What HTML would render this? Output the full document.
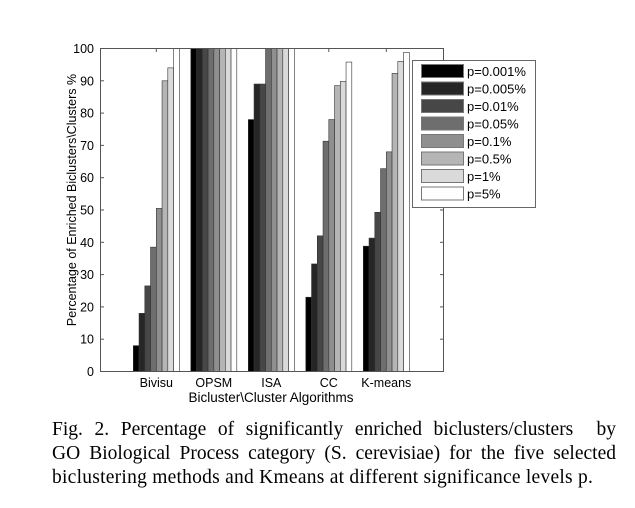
<!DOCTYPE html>
<html><head><meta charset="utf-8"><style>
body{margin:0;background:#fff;width:635px;height:508px;overflow:hidden;position:relative}
.cap{position:absolute;left:52px;width:564px;font-family:"Liberation Serif",serif;font-size:19.5px;line-height:24px;color:#000;white-space:nowrap}
.j{text-align:justify;text-align-last:justify}
</style></head><body>
<svg width="635" height="508" style="position:absolute;left:0;top:0" font-family="Liberation Sans, sans-serif">
<g id="bars" stroke="#333" stroke-width="0.6"></g>
<rect x="100.5" y="48.5" width="343" height="323" fill="none" stroke="#555" stroke-width="1"/>
<g id="ticks" stroke="#555" stroke-width="1"></g>
<g id="lab" font-size="12.5" fill="#000"></g>
<text x="0" y="0" font-size="12.5" transform="translate(76,200) rotate(-90)" text-anchor="middle">Percentage of Enriched Biclusters\Clusters %</text>
<text x="271" y="402" font-size="13.5" text-anchor="middle">Bicluster\Cluster Algorithms</text>
<rect x="412.5" y="60.5" width="123" height="147" fill="#fff" stroke="#666"/>
<g id="leg" font-size="13"></g>
</svg>
<div class="cap j" style="top:418px">Fig. 2. Percentage of significantly enriched biclusters/clusters &nbsp;by</div>
<div class="cap j" style="top:442px">GO Biological Process category (S. cerevisiae) for the five selected</div>
<div class="cap" style="top:466px;letter-spacing:0.25px">biclustering methods and Kmeans at different significance levels p.</div>
<script>
var cols=["#000","#262626","#474747","#6e6e6e","#8f8f8f","#b5b5b5","#dadada","#fff"];
var data=[[8,18,26.5,38.5,50.5,90,94,100],[100,100,100,100,100,100,100,100],[78,89,89,100,100,100,100,100],[23,33.3,42,71.3,78,88.5,89.8,95.8],[38.8,41.3,49.3,62.8,68,92.3,96,98.8]];
var names=["Bivisu","OPSM","ISA","CC","K-means"];
var ns="http://www.w3.org/2000/svg";
function el(t,a,p,txt){var e=document.createElementNS(ns,t);for(var k in a)e.setAttribute(k,a[k]);if(txt!=null)e.textContent=txt;document.getElementById(p).appendChild(e);}
var y0=371.5,sc=3.23,bw=5.75;
for(var g=0;g<5;g++){var x0=133.3+g*57.5;
for(var i=0;i<8;i++){var v=data[g][i];el("rect",{x:x0+i*bw,y:y0-v*sc,width:bw,height:v*sc,fill:cols[i]},"bars");}
var c=x0+23;el("line",{x1:c,y1:48.5,x2:c,y2:52},"ticks");el("line",{x1:c,y1:371.5,x2:c,y2:368},"ticks");
el("text",{x:c,y:387,"text-anchor":"middle"},"lab",names[g]);}
for(var t=0;t<=100;t+=10){var y=y0-t*sc;el("line",{x1:100.5,y1:y,x2:104,y2:y},"ticks");el("line",{x1:443.5,y1:y,x2:440,y2:y},"ticks");
el("text",{x:94,y:y+4.5,"text-anchor":"end"},"lab",t);}
var ln=["p=0.001%","p=0.005%","p=0.01%","p=0.05%","p=0.1%","p=0.5%","p=1%","p=5%"];
for(var i=0;i<8;i++){var y=64.5+i*17.5;el("rect",{x:421.5,y:y,width:42,height:13,fill:cols[i],stroke:"#777"},"leg");el("text",{x:467,y:y+11.5},"leg",ln[i]);}
</script>
</body></html>
